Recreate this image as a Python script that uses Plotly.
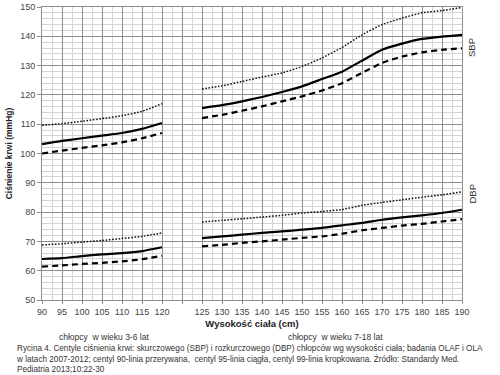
import plotly.graph_objects as go

# Heights (cm)
heights_young = [90, 95, 100, 105, 110, 115, 120]
heights_old = [125, 130, 135, 140, 145, 150, 155, 160, 165, 170, 175, 180, 185, 190]

# SBP centiles - boys 3-6 years
sbp90_young = [100.0, 101.0, 101.9, 102.8, 103.8, 105.2, 107.0]
sbp95_young = [103.2, 104.3, 105.2, 106.1, 107.0, 108.4, 110.4]
sbp99_young = [109.6, 110.2, 111.0, 111.9, 112.9, 114.4, 117.0]
# SBP centiles - boys 7-18 years
sbp90_old = [112.1, 113.2, 114.6, 116.1, 117.8, 119.5, 121.5, 124.0, 127.5, 130.9, 133.1, 134.5, 135.4, 135.9]
sbp95_old = [115.5, 116.5, 117.8, 119.3, 121.0, 122.9, 125.4, 127.9, 131.7, 135.4, 137.5, 139.1, 139.9, 140.5]
sbp99_old = [122.0, 123.1, 124.6, 126.1, 127.5, 129.7, 132.6, 136.2, 140.5, 144.0, 146.2, 148.0, 148.8, 149.8]

# DBP centiles - boys 3-6 years
dbp90_young = [61.4, 61.8, 62.3, 62.7, 63.2, 63.9, 65.1]
dbp95_young = [64.0, 64.3, 65.0, 65.6, 66.0, 66.7, 68.0]
dbp99_young = [68.8, 69.2, 69.8, 70.3, 71.0, 71.7, 72.9]
# DBP centiles - boys 7-18 years
dbp90_old = [68.3, 68.8, 69.5, 70.0, 70.6, 71.2, 71.7, 72.6, 73.8, 74.6, 75.4, 76.0, 76.8, 77.6]
dbp95_old = [71.1, 71.7, 72.3, 72.9, 73.4, 74.0, 74.6, 75.5, 76.3, 77.4, 78.2, 78.9, 79.7, 80.8]
dbp99_old = [76.6, 77.2, 77.7, 78.3, 78.9, 79.7, 80.2, 80.9, 82.3, 83.3, 84.2, 85.1, 85.9, 86.9]

# Axis break: the older group is shifted by one empty 5-cm slot
GAP = 5


def pos_young(h):
    return h


def pos_old(h):
    return h + GAP


x_young = [pos_young(h) for h in heights_young]
x_old = [pos_old(h) for h in heights_old]
x_all = x_young + [None] + x_old

styles = {
    90: dict(color="black", width=2.2, dash="6px,4px"),
    95: dict(color="black", width=2.2, dash="solid"),
    99: dict(color="#111", width=1.5, dash="1.6px,1.6px"),
}

series = [
    (90, sbp90_young, sbp90_old), (95, sbp95_young, sbp95_old), (99, sbp99_young, sbp99_old),
    (90, dbp90_young, dbp90_old), (95, dbp95_young, dbp95_old), (99, dbp99_young, dbp99_old),
]

fig = go.Figure()
for cent, yv, ov in series:
    fig.add_trace(go.Scatter(
        x=x_all, y=yv + [None] + ov, mode="lines",
        line=dict(shape="spline", smoothing=0.5, **styles[cent]),
        showlegend=False, hoverinfo="skip", connectgaps=False,
    ))

tickvals = x_young + [pos_young(120) + GAP] + x_old
ticktext = [str(h) for h in heights_young] + [""] + [str(h) for h in heights_old]

font_family = "Liberation Sans, Arial, sans-serif"
major_grid = "#8e8e8e"
minor_grid = "#d4d4d4"

W, H = 500, 375
L, R, T, B = 42, 38, 7, 75
plot_left, plot_right = L, W - R
plot_top, plot_bottom = T, H - B

fig.update_layout(
    width=W, height=H,
    margin=dict(l=L, r=R, t=T, b=B, autoexpand=False),
    paper_bgcolor="white", plot_bgcolor="white",
    font=dict(family=font_family, size=9, color="#333"),
    xaxis=dict(
        range=[90, pos_old(190)], tickmode="array", tickvals=tickvals, ticktext=ticktext,
        automargin=False,
        showgrid=True, gridcolor=major_grid, gridwidth=1,
        showline=True, mirror=True, linecolor=major_grid, linewidth=1,
        ticks="outside", ticklen=3, tickcolor=major_grid,
        tickfont=dict(size=9, color="#444"),
        minor=dict(dtick=2.5, tick0=90, showgrid=True, gridcolor=minor_grid, gridwidth=1),
        zeroline=False,
        title=dict(text="<b>Wysokość ciała (cm)</b>", font=dict(size=9.5, color="#222"), standoff=4),
    ),
    yaxis=dict(
        range=[50, 150], dtick=10, tick0=50,
        automargin=False,
        showgrid=True, gridcolor=major_grid, gridwidth=1,
        showline=True, mirror=True, linecolor=major_grid, linewidth=1,
        ticks="outside", ticklen=4, tickcolor=major_grid,
        tickfont=dict(size=9, color="#444"),
        minor=dict(dtick=2, tick0=50, showgrid=True, gridcolor=minor_grid, gridwidth=1),
        zeroline=False,
        title=dict(text="<b>Ciśnienie krwi (mmHg)</b>", font=dict(size=8.5, color="#222"), standoff=6),
    ),
)


def ypaper(py):
    return (plot_bottom - py) / (plot_bottom - plot_top)


def xpaper(px):
    return (px - plot_left) / (plot_right - plot_left)


annotations = [
    dict(text="chłopcy  w wieku 3-6 lat", x=xpaper(104), xref="paper", xanchor="center",
         y=ypaper(337), yref="paper", yanchor="middle", showarrow=False,
         font=dict(size=8.5, color="#333")),
    dict(text="chłopcy  w wieku 7-18 lat", x=xpaper(335), xref="paper", xanchor="center",
         y=ypaper(337), yref="paper", yanchor="middle", showarrow=False,
         font=dict(size=8.5, color="#333")),
]

caption = ("Rycina 4. Centyle ciśnienia krwi: skurczowego (SBP) i rozkurczowego (DBP) chłopców wg wysokości ciała; badania OLAF i OLA<br>"
           "w latach 2007-2012; centyl 90-linia przerywana,  centyl 95-linia ciągła, centyl 99-linia kropkowana. Źródło: Standardy Med.<br>"
           "Pediatria 2013;10:22-30")
annotations.append(dict(text=caption, x=xpaper(14), xref="paper", xanchor="left", align="left",
                        y=ypaper(342), yref="paper", yanchor="top", showarrow=False,
                        font=dict(size=8.2, color="#333")))
annotations.append(dict(text="SBP", textangle=-90, x=xpaper(479), xref="paper",
                        y=ypaper(36), yref="paper", showarrow=False, font=dict(size=9.5, color="#333")))
annotations.append(dict(text="DBP", textangle=-90, x=xpaper(479), xref="paper",
                        y=ypaper(206), yref="paper", showarrow=False, font=dict(size=9.5, color="#333")))

fig.update_layout(annotations=annotations)

fig.write_html("out.html", config={"displayModeBar": False},
               post_script="document.body.style.margin='0';")
